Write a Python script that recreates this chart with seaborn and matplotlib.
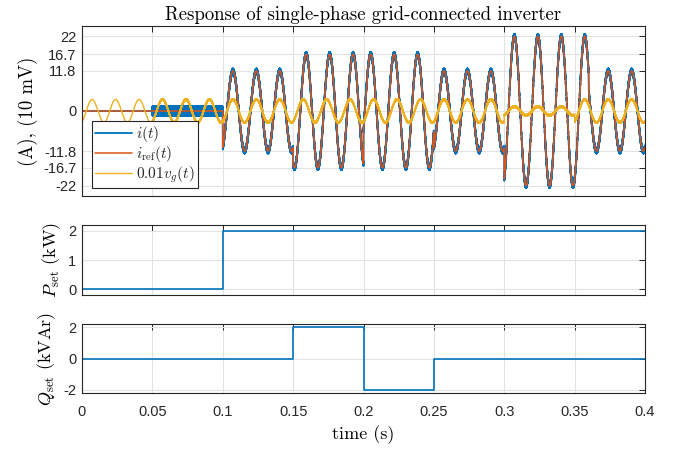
import numpy as np
import pandas as pd
import matplotlib
matplotlib.use("Agg")
import matplotlib.pyplot as plt
import seaborn as sns

# ---------------- data ----------------
grid_freq = 60.0              # Hz
vg_peak_time = 0.0072         # first positive peak of v_g (s)
# grid voltage amplitude (0.01 * V) by segment
v_seg_start = [0.0, 0.30, 0.35]
v_seg_amp = [3.4, 1.3, 3.4]
# current reference amplitude (A) and phase lag (deg) by segment
i_seg_start = [0.0, 0.10, 0.15, 0.20, 0.25, 0.30, 0.36]
i_seg_amp = [0.0, 11.8, 16.7, 16.7, 11.8, 22.0, 11.8]
i_seg_lag_deg = [0, 0, 45, -45, 0, 0, 0]
meas_start = 0.05             # measured signals start here
ripple_idle = 1.3             # switching ripple on i(t) before 0.1 s
ripple_run = 0.7              # switching ripple on i(t) after 0.1 s
vg_ripple = 0.25

p_time = [0.0, 0.1, 0.4]
p_val = [0.0, 2.0, 2.0]
q_time = [0.0, 0.15, 0.2, 0.25, 0.4]
q_val = [0.0, 2.0, -2.0, 0.0, 0.0]

top_yticks = [-22, -16.7, -11.8, 0, 11.8, 16.7, 22]
top_yticklabels = ["-22", "-16.7", "-11.8", "0", "11.8", "16.7", "22"]
x_ticks = [0, 0.05, 0.1, 0.15, 0.2, 0.25, 0.3, 0.35, 0.4]
x_ticklabels = ["0", "0.05", "0.1", "0.15", "0.2", "0.25", "0.3", "0.35", "0.4"]

# ---------------- build signals ----------------
dt = 5e-5
t = np.arange(0, 0.4 + dt / 2, dt)
n = np.arange(len(t))
zig = np.where(n % 2 == 0, 1.0, -1.0)
theta = 2 * np.pi * grid_freq * (t - vg_peak_time)

vi = np.searchsorted(v_seg_start, t, side="right") - 1
vamp = np.array(v_seg_amp)[vi]
vg = vamp * np.cos(theta) + np.where(t >= meas_start, vg_ripple * zig, 0.0)

ii = np.searchsorted(i_seg_start, t, side="right") - 1
iamp = np.array(i_seg_amp)[ii]
lag = np.deg2rad(np.array(i_seg_lag_deg)[ii])
iref = iamp * np.cos(theta - lag)
rip = np.where(t < meas_start, 0.0, np.where(t < 0.1, ripple_idle, ripple_run))
imeas = iref + rip * zig

df = pd.DataFrame({"t": t, "i": imeas, "iref": iref, "vg": vg})
dfp = pd.DataFrame({"t": p_time, "P": p_val})
dfq = pd.DataFrame({"t": q_time, "Q": q_val})

# ---------------- style ----------------
sns.set_style("white")
plt.rcParams["font.family"] = ["Liberation Sans", "DejaVu Sans"]
plt.rcParams["mathtext.fontset"] = "cm"
plt.rcParams["axes.unicode_minus"] = False

BLUE = "#0072BD"
RED = "#D95319"
YEL = "#EDB120"
DARK = "#262626"
GRID = "#e3e3e3"
SERIF = "cmr10"

fig = plt.figure(figsize=(6.79, 4.49), dpi=100)
L, W = 82 / 679, 563 / 679
ax0 = fig.add_axes([L, 1 - 196 / 449, W, 170 / 449])
ax1 = fig.add_axes([L, 1 - 295 / 449, W, 70 / 449])
ax2 = fig.add_axes([L, 1 - 393 / 449, W, 69 / 449])

sns.lineplot(data=df, x="t", y="i", ax=ax0, color=BLUE, lw=1.3,
             estimator=None, sort=False, label=r"$i(t)$")
sns.lineplot(data=df, x="t", y="iref", ax=ax0, color=RED, lw=1.1,
             estimator=None, sort=False, label=r"$i_{\mathrm{ref}}(t)$")
sns.lineplot(data=df, x="t", y="vg", ax=ax0, color=YEL, lw=1.0,
             estimator=None, sort=False, label=r"$0.01v_g(t)$")

sns.lineplot(data=dfp, x="t", y="P", ax=ax1, color=BLUE, lw=1.2,
             estimator=None, sort=False, drawstyle="steps-post")
sns.lineplot(data=dfq, x="t", y="Q", ax=ax2, color=BLUE, lw=1.2,
             estimator=None, sort=False, drawstyle="steps-post")

for ax in (ax0, ax1, ax2):
    ax.set_xlim(0, 0.4)
    ax.set_xticks(x_ticks)
    ax.grid(True, color=GRID, lw=0.8)
    ax.set_axisbelow(True)
    ax.tick_params(direction="in", top=True, right=True, length=4,
                   width=0.7, color=DARK, labelcolor=DARK, labelsize=10.5)
    ax.tick_params(axis="x", pad=9)
    ax.tick_params(axis="y", pad=4)
    for s in ax.spines.values():
        s.set_color(DARK)
        s.set_linewidth(0.8)
    ax.set_xlabel("")

ax0.set_xticklabels([])
ax1.set_xticklabels([])
ax2.set_xticklabels(x_ticklabels)

ax0.set_ylim(-25, 25)
ax0.set_yticks(top_yticks)
ax0.set_yticklabels(top_yticklabels)
ax1.set_ylim(-0.2, 2.2)
ax1.set_yticks([0, 1, 2])
ax1.set_yticklabels(["0", "1", "2"])
ax2.set_ylim(-2.2, 2.2)
ax2.set_yticks([-2, 0, 2])
ax2.set_yticklabels(["-2", "0", "2"])

ax0.set_title("Response of single-phase grid-connected inverter",
              family=SERIF, fontsize=13.5, color="black", pad=4)
ax0.set_ylabel("(A), (10 mV)", family=SERIF, fontsize=13.5, color="black",
               labelpad=4)
ax1.set_ylabel(r"$P_{\mathrm{set}}\ \mathrm{(kW)}$", fontsize=13, color="black")
ax2.set_ylabel(r"$Q_{\mathrm{set}}\ \mathrm{(kVAr)}$", fontsize=13, color="black")
ax2.set_xlabel("time (s)", family=SERIF, fontsize=13, color="black",
               labelpad=4)

h, l = ax0.get_legend_handles_labels()
leg = ax0.legend(h, l, loc="lower left", bbox_to_anchor=(0.018, 0.047),
                 borderaxespad=0, fancybox=False, framealpha=1,
                 edgecolor=DARK, fontsize=11, handlelength=2.4,
                 borderpad=0.2, labelspacing=0.0, handletextpad=0.3)
leg.get_frame().set_linewidth(0.8)

fig.savefig("out.png", dpi=100)
